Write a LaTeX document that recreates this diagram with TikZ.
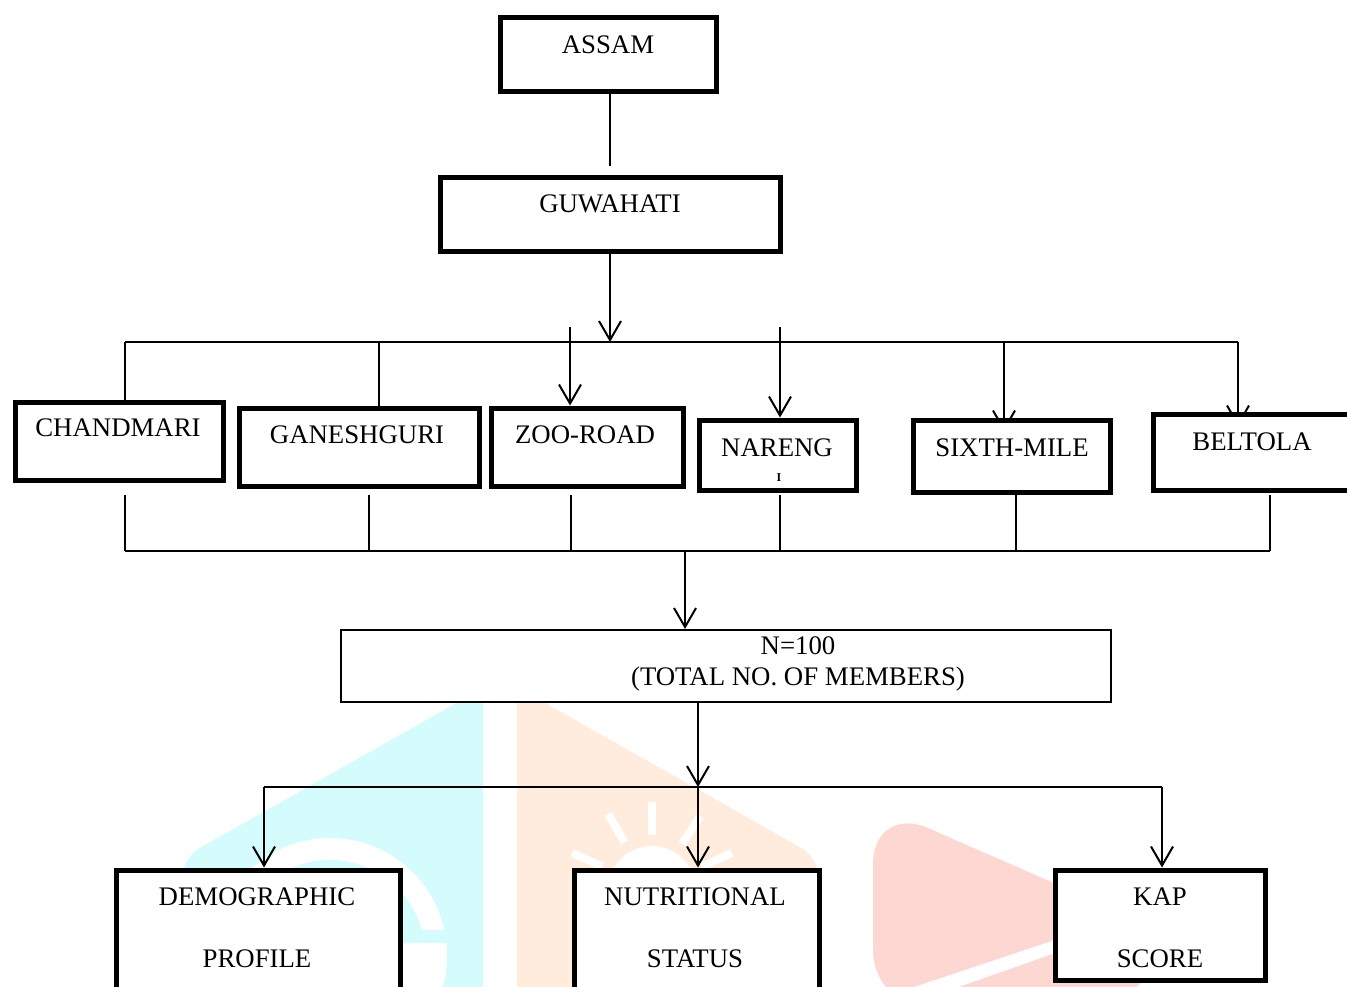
\documentclass[tikz,border=0pt]{standalone}
\usepackage{fontspec}
\setmainfont{Liberation Serif}
\usetikzlibrary{arrows.meta}
\pgfdeclarelayer{wm}
\pgfdeclarelayer{bg}
\pgfsetlayers{wm,bg,main}
\definecolor{wmcyan}{RGB}{212,252,252}
\definecolor{wmorange}{RGB}{255,236,220}
\definecolor{wmred}{RGB}{253,216,210}
\begin{document}
\begin{tikzpicture}[x=0.5pt,y=-0.5pt,
  box/.style={draw, line width=2.5pt, fill=white, inner sep=0pt},
  thinbox/.style={draw, line width=1pt, fill=white, inner sep=0pt},
  lbl/.style={inner sep=0pt, anchor=base, font=\fontsize{13.4}{15}\selectfont},
  conn/.style={line width=1pt},
  arr/.style={conn, -{Straight Barb[length=9.5pt,width=11pt,line width=1pt]}},
  ray/.style={white, line width=4pt}
]
\useasboundingbox (0,0) rectangle (1347,986);

% ---------- boxes ----------
\node[box, minimum width=108pt, minimum height=37pt] (assam) at (608,54) {};
\node[lbl] (assamT) at (608,53.5) {ASSAM};
\node[box, minimum width=170pt, minimum height=37pt] (guw) at (610,214) {};
\node[lbl] (guwT) at (610,212.5) {GUWAHATI};

\node[box, minimum width=104pt, minimum height=39pt] (chand) at (119,441) {};
\node[lbl] (chandT) at (118,436.5) {CHANDMARI};
\node[box, minimum width=120pt, minimum height=39pt] (gan) at (359,447) {};
\node[lbl] (ganT) at (357,443.5) {GANESHGURI};
\node[box, minimum width=96pt, minimum height=39pt] (zoo) at (587,447) {};
\node[lbl] (zooT) at (585,443.5) {ZOO-ROAD};
\node[box, minimum width=78.5pt, minimum height=35pt] (nar) at (777.5,455) {};
\node[lbl] (narT) at (777,456.5) {NARENG};
\node[inner sep=0pt, font=\fontsize{6}{6}\selectfont\bfseries] (narI) at (779,478) {I};
\node[box, minimum width=98.5pt, minimum height=36pt] (six) at (1011.5,456) {};
\node[lbl] (sixT) at (1012,456.5) {SIXTH-MILE};
\node[box, minimum width=106pt, minimum height=38pt] (bel) at (1259,452) {};
\node[lbl] (belT) at (1252,450.5) {BELTOLA};

\node[thinbox, minimum width=385pt, minimum height=36pt] (nbox) at (726,666) {};
\node[lbl] (nT1) at (798,654) {N=100};
\node[lbl] (nT2) at (798,685) {(TOTAL NO. OF MEMBERS)};

\node[box, minimum width=142pt, minimum height=65pt] (demo) at (258,935) {};
\node[lbl] (demoT1) at (257,905.5) {DEMOGRAPHIC};
\node[lbl] (demoT2) at (257,967) {PROFILE};
\node[box, minimum width=122.5pt, minimum height=65pt] (nut) at (696.5,935) {};
\node[lbl] (nutT1) at (695,905.5) {NUTRITIONAL};
\node[lbl] (nutT2) at (695,967) {STATUS};
\node[box, minimum width=105pt, minimum height=55pt] (kap) at (1160,925) {};
\node[lbl] (kapT1) at (1160,905.5) {KAP};
\node[lbl] (kapT2) at (1160,967) {SCORE};

% ---------- connectors ----------
\begin{pgfonlayer}{bg}
\coordinate (busL) at (125,342);
\coordinate (busR) at (1238,342);
\coordinate (bG) at (379,342);
\coordinate (zS) at (570,327);
\coordinate (nS) at (780,327);
\coordinate (sS) at (1004,342);
\draw[conn, shorten >=4.5pt] (assam.south -| guw.north) -- (guw.north);
\draw[arr] (guw.south) -- (guw.south |- busL);
\draw[conn] (busL) -- (busR);
\draw[conn] (busL) -- (chand.north -| busL);
\draw[conn] (bG) -- (gan.north -| bG);
\draw[arr] (zS) -- (zoo.north -| zS);
\draw[arr] (nS) -- (nar.north -| nS);
\draw[arr] (sS) -- ([yshift=-7pt]six.north -| sS);
\draw[arr] (busR) -- ([yshift=-7.5pt]bel.north -| busR);

\coordinate (d1) at (125,551);
\coordinate (d2) at (369,551);
\coordinate (d3) at (571,551);
\coordinate (d4) at (780,551);
\coordinate (d5) at (1016,551);
\coordinate (d6) at (1270,551);
\coordinate (dm) at (685,551);
\draw[conn] ([yshift=-6pt]chand.south -| d1) -- (d1);
\draw[conn] ([yshift=-3pt]gan.south -| d2) -- (d2);
\draw[conn] ([yshift=-3pt]zoo.south -| d3) -- (d3);
\draw[conn] ([yshift=-1pt]nar.south -| d4) -- (d4);
\draw[conn] (six.south -| d5) -- (d5);
\draw[conn] ([yshift=-1pt]bel.south -| d6) -- (d6);
\draw[conn] (d1) -- (d6);
\draw[arr] (dm) -- (nbox.north -| dm);

\coordinate (e0) at (698,787);
\coordinate (e1) at (264,787);
\coordinate (e3) at (1162,787);
\draw[arr] (nbox.south -| e0) -- (e0);
\draw[conn] (e1) -- (e3);
\draw[arr] (e1) -- (demo.north -| e1);
\draw[arr] (e0) -- (nut.north -| e0);
\draw[arr] (e3) -- (kap.north -| e3);
\end{pgfonlayer}

% ---------- faint watermark ----------
\begin{pgfonlayer}{wm}
\fill[wmcyan, rounded corners=10pt] (483,1010) -- (483,688) -- (182,858) -- (182,1010) -- cycle;
\fill[white] (330,955) circle[radius=58.5pt];
\begin{scope}
\clip (200,800) rectangle (460,930);
\fill[wmcyan] (330,955) circle[radius=47.5pt];
\end{scope}
\fill[wmcyan] (330,930) rectangle (447,943);

\fill[wmorange, rounded corners=10pt] (517,1010) -- (517,687) -- (819,858) -- (820,1010) -- cycle;
\fill[white] (652,890) circle[radius=22pt];
\foreach \a in {-25,-57,-90,-120,-155}
  \draw[ray] ([shift={(\a:55)}]652,890) -- ([shift={(\a:88)}]652,890);

\fill[wmred, rounded corners=30pt] (873,1010) -- (873,804) -- (1150,925) -- (1150,1010) -- cycle;
\fill[white] (905,990) -- (1055,940) -- (1055,953) -- (950,990) -- cycle;
\end{pgfonlayer}
\end{tikzpicture}
\end{document}
